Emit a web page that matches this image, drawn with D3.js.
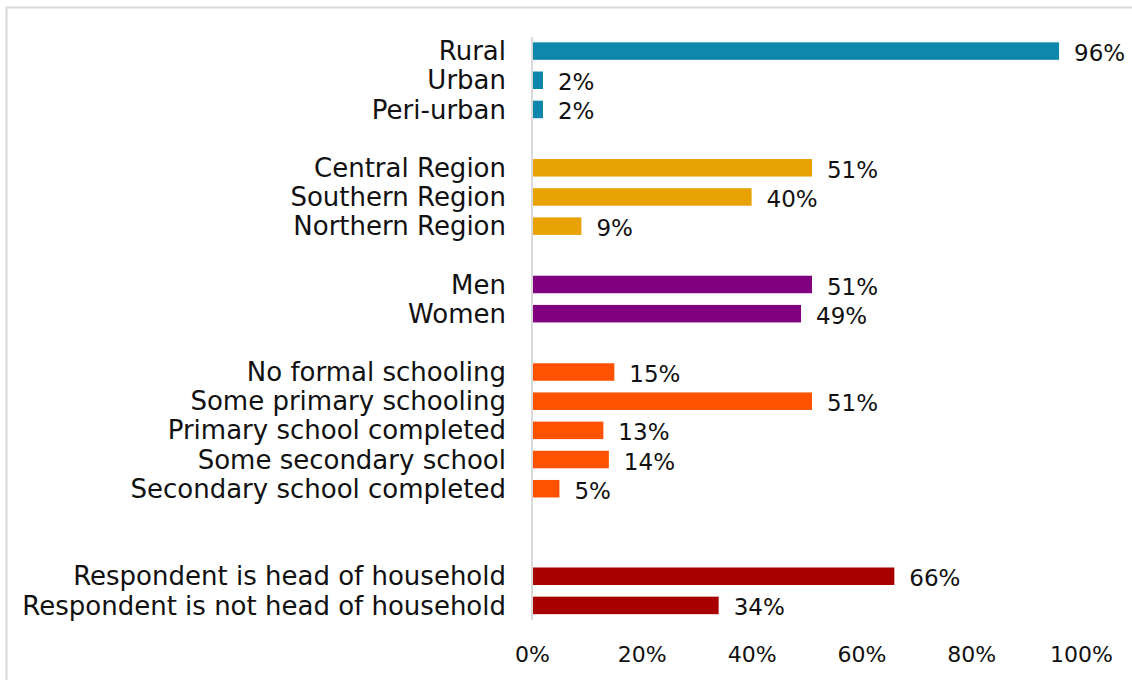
<!DOCTYPE html>
<html>
<head>
<meta charset="utf-8">
<script src="https://cdn.jsdelivr.net/npm/d3@7"></script>
<style>
  body { margin: 0; background: #fff; }
  svg { display: block; }
  text { font-family: "DejaVu Sans", sans-serif; fill: #111; }
</style>
</head>
<body>
<svg id="chart" width="1132" height="680"></svg>
<script>
// categories, top to bottom; empty names are the gaps between groups
var categories = ["Rural", "Urban", "Peri-urban", "",
	"Central Region", "Southern Region", "Northern Region", " ",
	"Men", "Women", "  ",
	"No formal schooling", "Some primary schooling", "Primary school completed",
	"Some secondary school", "Secondary school completed", "   ", "    ",
	"Respondent is head of household", "Respondent is not head of household"];

var values = [96, 2, 2, null, 51, 40, 9, null, 51, 49, null, 15, 51, 13, 14, 5, null, null, 66, 34];

var groups = [0, 0, 0, -1, 1, 1, 1, -1, 2, 2, -1, 3, 3, 3, 3, 3, -1, -1, 4, 4];
var groupColors = ["#0F86AB", "#E8A203", "#80007F", "#FF5200", "#A80000"];

var xTicks = [0, 20, 40, 60, 80, 100];

var svg = d3.select("#chart");

// outer frame
svg.append("rect")
	.attr("x", 6.5).attr("y", 7.5)
	.attr("width", 1140).attr("height", 700)
	.attr("fill", "none")
	.attr("stroke", "#d9d9d9")
	.attr("stroke-width", 2);

var x = d3.scaleLinear().domain([0, 100]).range([532, 1081]);
var y = d3.scaleBand().domain(categories).range([36.5, 620]).paddingInner(0.4).paddingOuter(0.2);

var data = categories.map(function(c, i) {
	return { name: c, value: values[i], group: groups[i] };
}).filter(function(d) { return d.value !== null; });

// bars
svg.selectAll(".bar")
	.data(data)
	.enter().append("rect")
	.attr("class", "bar")
	.attr("x", x(0))
	.attr("y", function(d) { return y(d.name); })
	.attr("width", function(d) { return x(d.value) - x(0); })
	.attr("height", y.bandwidth())
	.attr("fill", function(d) { return groupColors[d.group]; });

// value labels
svg.selectAll(".val")
	.data(data)
	.enter().append("text")
	.attr("class", "val")
	.attr("x", function(d) { return x(d.value) + 15; })
	.attr("y", function(d) { return y(d.name) + y.bandwidth() / 2 + 2; })
	.attr("dy", "0.35em")
	.attr("font-size", 23)
	.text(function(d) { return d.value + "%"; });

// category labels
svg.selectAll(".cat")
	.data(data)
	.enter().append("text")
	.attr("class", "cat")
	.attr("x", 506)
	.attr("y", function(d) { return y(d.name) + y.bandwidth() / 2; })
	.attr("dy", "0.35em")
	.attr("text-anchor", "end")
	.attr("font-size", 26)
	.text(function(d) { return d.name; });

// vertical axis line
svg.append("line")
	.attr("x1", x(0)).attr("x2", x(0))
	.attr("y1", 37).attr("y2", 620)
	.attr("stroke", "#d9d9d9")
	.attr("stroke-width", 2);

// x axis tick labels (no line)
var xAxis = svg.append("g")
	.attr("transform", "translate(0,643)")
	.call(d3.axisBottom(x).tickValues(xTicks).tickSize(0).tickFormat(function(d) { return d + "%"; }));
xAxis.select(".domain").remove();
xAxis.selectAll("text")
	.attr("font-size", 22)
	.attr("font-family", "DejaVu Sans, sans-serif")
	.attr("fill", "#111")
	.attr("dy", "0.71em");
</script>
</body>
</html>
